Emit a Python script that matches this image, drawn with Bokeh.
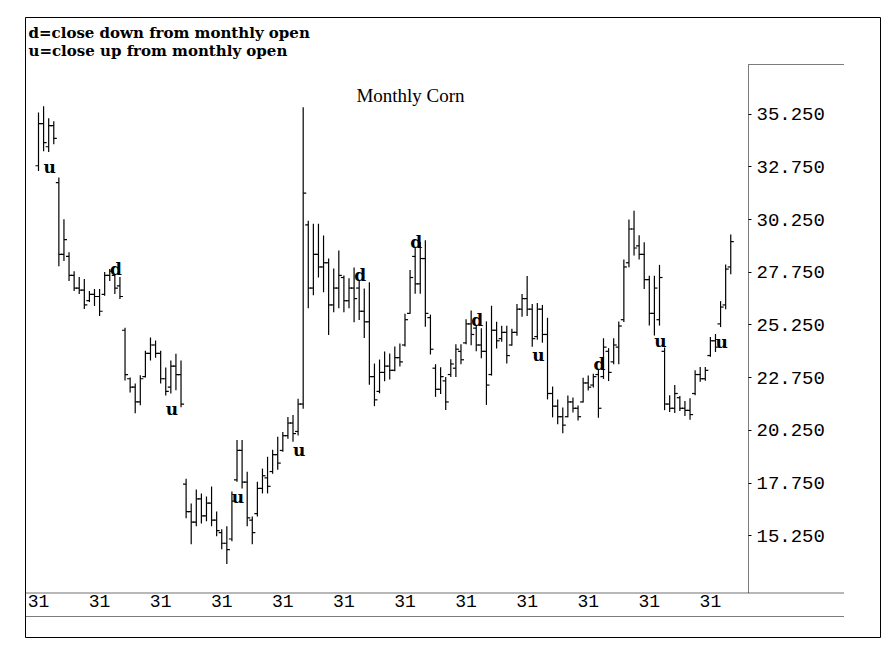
from bokeh.plotting import figure
from bokeh.models import Range1d, FixedTicker, BoxAnnotation, Label, ColumnDataSource
from bokeh.embed import file_html
from bokeh.resources import INLINE
from bokeh.core.properties import value

# ---------------- data ----------------
months = list(range(137))
opens = [32.8, 34.8, 33.7, 34.7, 32.0, 28.6, 28.5, 27.6, 27.0, 26.9,
         26.4, 26.7, 26.6, 26.7, 27.6, 27.6, 27.1, 25.0, 22.7, 22.3,
         21.6, 22.8, 23.9, 24.3, 23.9, 22.7, 22.3, 23.3, 22.9, 17.7,
         16.4, 15.9, 17.0, 16.2, 16.8, 16.0, 15.4, 14.9, 15.1, 17.9,
         19.3, 17.8, 16.0, 16.3, 17.5, 18.0, 18.3, 19.1, 19.3, 20.0,
         20.6, 20.2, 21.5, 30.0, 27.0, 28.6, 28.0, 28.2, 26.2, 27.0,
         27.5, 26.4, 27.0, 27.0, 25.9, 25.4, 22.8, 22.1, 23.0, 23.3,
         23.1, 23.7, 24.3, 25.8, 28.5, 27.2, 28.4, 25.6, 23.2, 22.2,
         22.6, 22.9, 23.2, 24.0, 24.4, 25.3, 25.1, 24.3, 24.0, 22.9,
         25.0, 24.6, 24.9, 24.3, 24.9, 26.0, 26.5, 26.0, 24.7, 26.0,
         24.8, 22.0, 21.4, 20.9, 20.9, 21.6, 21.3, 21.6, 22.5, 22.4,
         22.9, 22.8, 24.0, 23.5, 24.2, 25.5, 28.2, 29.8, 29.0, 28.6,
         27.4, 25.8, 25.5, 24.0, 21.5, 21.3, 21.8, 21.3, 21.2, 22.0,
         22.9, 22.7, 23.8, 24.5, 25.3, 26.2, 28.0]
highs = [35.33, 35.62, 35.05, 34.91, 32.24, 30.26, 28.70, 27.80, 27.52, 27.43,
         26.86, 26.95, 26.95, 27.76, 27.90, 27.66, 27.52, 25.12, 22.76, 22.48,
         22.86, 24.03, 24.65, 24.51, 24.03, 23.23, 23.56, 23.89, 23.56, 17.96,
         16.78, 17.45, 17.26, 17.12, 17.59, 16.41, 15.56, 15.70, 17.35, 19.80,
         19.80, 18.29, 16.17, 17.82, 18.44, 19.00, 19.33, 19.95, 20.18, 20.89,
         20.98, 21.75, 35.57, 30.19, 30.05, 30.05, 29.49, 28.40, 27.93, 28.78,
         27.60, 27.46, 27.98, 27.36, 26.98, 27.27, 23.42, 23.61, 23.99, 23.90,
         24.23, 24.37, 25.78, 27.86, 28.94, 29.18, 29.27, 25.74, 23.39, 23.25,
         22.78, 23.63, 24.34, 24.34, 25.52, 25.94, 25.23, 25.09, 25.42, 26.16,
         25.40, 25.21, 25.21, 25.07, 26.25, 26.72, 27.57, 26.25, 26.29, 26.20,
         25.59, 22.33, 21.72, 21.34, 21.90, 21.81, 21.43, 22.75, 22.85, 22.94,
         23.16, 24.62, 24.15, 24.62, 25.42, 28.36, 30.25, 30.67, 29.50, 29.17,
         27.58, 27.58, 28.10, 24.18, 21.92, 22.40, 21.88, 21.64, 21.78, 23.10,
         23.26, 23.26, 24.68, 24.82, 26.38, 28.12, 29.54]
lows = [32.55, 33.49, 33.45, 33.82, 28.04, 28.28, 27.33, 26.86, 26.72, 26.01,
        26.34, 26.15, 25.68, 26.63, 27.33, 26.72, 26.48, 22.62, 22.05, 21.06,
        21.44, 22.76, 23.56, 23.70, 22.48, 21.91, 22.00, 22.15, 21.35, 16.08,
        14.85, 15.70, 15.84, 15.94, 15.70, 15.23, 14.62, 13.91, 15.00, 17.82,
        17.49, 15.70, 14.85, 16.17, 17.26, 17.26, 18.20, 18.39, 19.24, 19.85,
        19.71, 20.01, 21.28, 26.04, 26.66, 27.50, 26.80, 24.77, 25.85, 26.04,
        25.85, 26.04, 25.38, 25.48, 24.63, 22.41, 21.40, 22.01, 22.58, 22.67,
        23.05, 23.28, 24.23, 25.78, 26.73, 26.73, 25.17, 23.85, 21.84, 21.98,
        21.22, 22.78, 22.78, 23.39, 24.34, 24.29, 24.00, 23.67, 21.46, 22.85,
        24.13, 24.46, 23.42, 24.27, 24.74, 25.64, 25.68, 24.22, 24.55, 24.41,
        21.72, 20.87, 20.54, 20.11, 20.87, 21.10, 20.72, 21.57, 22.14, 22.28,
        20.85, 22.69, 22.59, 23.39, 23.39, 25.39, 27.99, 28.55, 28.36, 26.95,
        25.22, 24.75, 25.22, 21.21, 21.12, 21.08, 21.17, 20.93, 20.75, 21.92,
        22.56, 22.60, 23.74, 23.97, 25.15, 26.00, 27.65]
closes = [34.8, 33.9, 34.7, 34.1, 28.6, 29.3, 27.6, 27.0, 26.9, 26.2,
          26.7, 26.6, 25.9, 27.6, 27.8, 27.0, 26.6, 22.9, 22.3, 21.6,
          22.7, 23.9, 24.3, 23.9, 22.7, 22.1, 23.3, 22.9, 21.5, 16.4,
          15.9, 17.0, 16.2, 16.8, 16.0, 15.5, 14.9, 14.6, 16.9, 19.3,
          17.8, 16.1, 15.4, 17.5, 18.1, 17.6, 19.1, 18.7, 20.0, 20.6,
          20.1, 21.5, 31.5, 27.0, 28.6, 28.0, 28.2, 26.2, 27.0, 27.6,
          26.4, 27.0, 26.5, 25.9, 25.4, 22.8, 21.7, 23.0, 23.3, 23.1,
          23.7, 23.5, 25.5, 27.5, 27.2, 28.4, 25.8, 24.1, 22.2, 22.8,
          21.6, 23.4, 24.1, 23.6, 25.3, 24.8, 24.3, 24.0, 22.4, 25.0,
          24.5, 24.9, 23.8, 24.9, 26.0, 26.5, 26.0, 24.6, 26.0, 24.8,
          22.0, 21.4, 20.9, 20.5, 21.6, 21.3, 20.9, 22.5, 22.3, 22.8,
          21.3, 24.2, 23.0, 24.3, 25.2, 28.0, 29.8, 28.9, 28.6, 27.4,
          25.8, 27.0, 27.5, 21.5, 21.3, 22.0, 21.3, 21.2, 21.0, 22.9,
          22.7, 23.1, 24.5, 24.2, 26.1, 27.9, 29.2]

mark_months = [2, 15, 26, 39, 51, 63, 74, 86, 98, 110, 122, 134]
mark_letters = ["u", "d", "u", "u", "u", "d", "d", "d", "u", "d", "u", "u"]

price_ticks = [15.25, 17.75, 20.25, 22.75, 25.25, 27.75, 30.25, 32.75, 35.25]
price_labels = ["15.250", "17.750", "20.250", "22.750", "25.250",
                "27.750", "30.250", "32.750", "35.250"]
year_ticks = [0, 12, 24, 36, 48, 60, 72, 84, 96, 108, 120, 132]
year_labels = ["31"] * 12

legend_lines = ["d=close down from monthly open", "u=close up from monthly open"]
title_text = "Monthly Corn"

# ---------------- figure ----------------
INK = "#000000"
# the frame is the outer box of the chart
p = figure(width=885, height=641,
           x_range=Range1d(-2.554, 165.42), y_range=Range1d(10.43, 39.83),
           y_axis_location="right", toolbar_location=None, output_backend="svg",
           min_border_left=25, min_border_right=5, min_border_top=17,
           min_border_bottom=4)
p.grid.visible = False
p.outline_line_color = INK
p.outline_line_width = 1
p.background_fill_color = "white"
p.border_fill_color = "white"

tick_w = 0.6
bar_w = 1.2
src = ColumnDataSource(dict(
    x=months, o=opens, h=highs, l=lows, c=closes,
    xl=[m - tick_w for m in months], xr=[m + tick_w for m in months]))
p.segment(x0="x", y0="l", x1="x", y1="h", source=src, line_color=INK, line_width=bar_w)
p.segment(x0="xl", y0="o", x1="x", y1="o", source=src, line_color=INK, line_width=bar_w)
p.segment(x0="x", y0="c", x1="xr", y1="c", source=src, line_color=INK, line_width=bar_w)

d_x = [m for m, t in zip(mark_months, mark_letters) if t == "d"]
u_x = [m for m, t in zip(mark_months, mark_letters) if t == "u"]
p.text(x=d_x, y=[highs[m] for m in d_x], text=["d"] * len(d_x),
       text_font=value("DejaVu Serif"), text_font_style="bold", text_font_size="17px",
       text_align="center", text_baseline="alphabetic", x_offset=1, y_offset=-5,
       text_color=INK)
p.text(x=u_x, y=[lows[m] for m in u_x], text=["u"] * len(u_x),
       text_font=value("DejaVu Serif"), text_font_style="bold", text_font_size="17px",
       text_align="center", text_baseline="alphabetic", x_offset=1, y_offset=15,
       text_color=INK)

# right price axis, pinned inside the box at the price-column edge
ya = p.yaxis[0]
ya.fixed_location = 139.49
ya.ticker = FixedTicker(ticks=price_ticks)
ya.major_label_overrides = {t: s for t, s in zip(price_ticks, price_labels)}
ya.major_label_text_font = "Liberation Mono"
ya.major_label_text_font_size = "19px"
ya.major_label_text_color = INK
ya.major_tick_out = 3
ya.major_tick_in = 0
ya.major_tick_line_color = INK
ya.minor_tick_line_color = None
ya.axis_line_color = None
ya.major_label_standoff = 5

# bottom date axis, pinned in the date band
xa = p.xaxis[0]
xa.fixed_location = 12.85
xa.ticker = FixedTicker(ticks=year_ticks)
xa.major_label_overrides = {t: s for t, s in zip(year_ticks, year_labels)}
xa.major_label_text_font = "Liberation Mono"
xa.major_label_text_font_size = "18px"
xa.major_label_text_color = INK
xa.axis_line_color = None
xa.major_tick_line_color = None
xa.minor_tick_line_color = None
xa.major_label_standoff = 3


def rule(left, right, top, bottom):
    p.add_layout(BoxAnnotation(left=left, right=right, top=top, bottom=bottom,
                               left_units="canvas", right_units="canvas",
                               top_units="canvas", bottom_units="canvas",
                               fill_alpha=0, line_color=INK, line_width=1,
                               level="overlay"))


rule(748, 748, 64, 592.5)      # price axis line
rule(748, 843.5, 64, 64)       # top of price column
rule(25, 843.5, 592.5, 592.5)  # upper line of date band
rule(25, 843.5, 616, 616)      # lower line of date band

p.add_layout(Label(x=28, y=32.5, x_units="canvas", y_units="canvas",
                   text=legend_lines[0], text_font="DejaVu Serif",
                   text_font_style="bold", text_font_size="15px",
                   text_baseline="alphabetic", text_color=INK))
p.add_layout(Label(x=28, y=50, x_units="canvas", y_units="canvas",
                   text=legend_lines[1], text_font="DejaVu Serif",
                   text_font_style="bold", text_font_size="15px",
                   text_baseline="alphabetic", text_color=INK))
p.add_layout(Label(x=410, y=95, x_units="canvas", y_units="canvas",
                   text=title_text, text_font="Liberation Serif",
                   text_font_size="19px", text_align="center",
                   text_baseline="alphabetic", text_color=INK))

open("out.html", "w").write(file_html(p, INLINE))
